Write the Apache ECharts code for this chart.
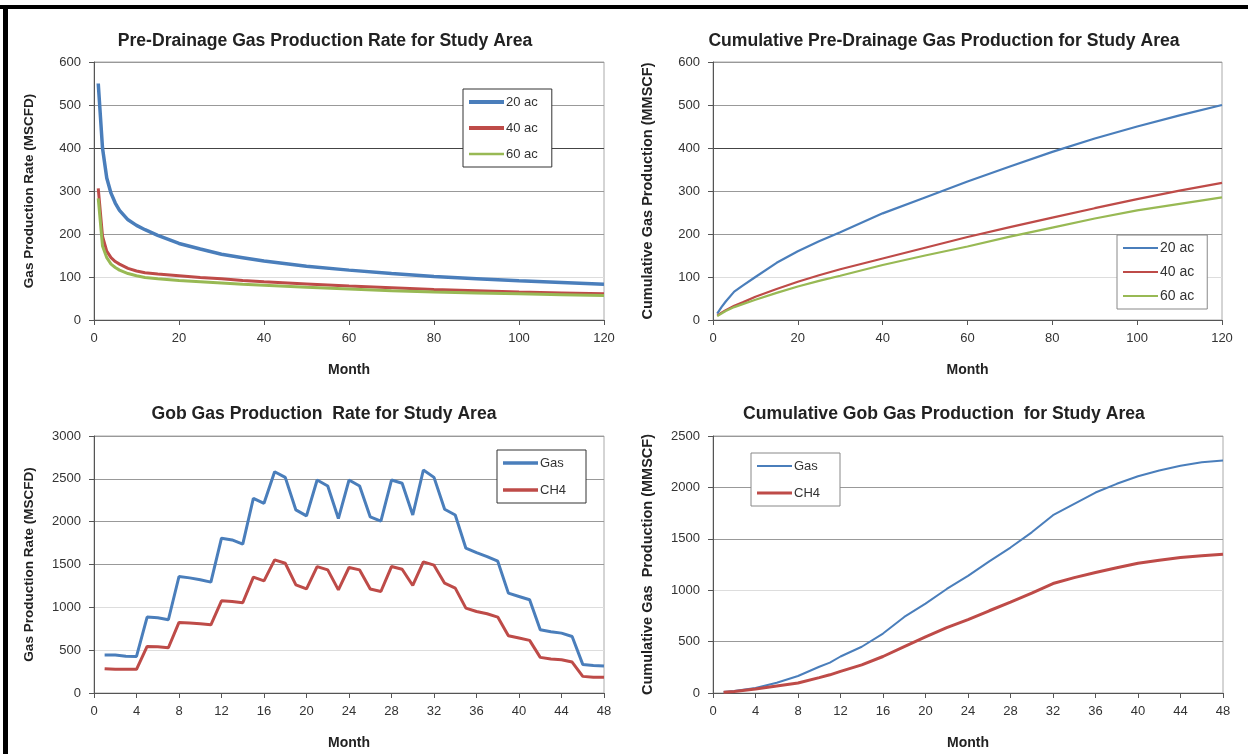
<!DOCTYPE html>
<html><head><meta charset="utf-8">
<script src="https://cdn.jsdelivr.net/npm/echarts@6/dist/echarts.min.js"></script>
<style>
html,body{margin:0;padding:0;background:#fff;}
#wrap{position:relative;width:1248px;height:754px;overflow:hidden;}
#c{position:absolute;left:0;top:0;width:1248px;height:754px;}
.fr{position:absolute;background:#000;pointer-events:none;}
</style></head>
<body><div id="wrap"><div id="c"></div>
<div class="fr" style="left:0;top:5px;width:1248px;height:4px"></div>
<div class="fr" style="left:3px;top:5px;width:5px;height:749px"></div>
</div>
<script>
// ---- Pre-drainage gas production rate (MSCFD) ----
const rateMonths = [1,2,3,4,5,6,8,10,12,15,20,25,30,35,40,50,60,70,80,90,100,110,120];
const rate20ac = [550,400,330,295,272,255,233,220,210,197,178,165,153,145,137,125,116,108,101,96,91,87,83];
const rate40ac = [306,195,160,145,136,130,120,114,110,107,103,99,96,92,89,84,79,75,71,68,65,63,61];
const rate60ac = [283,172,145,130,122,116,108,103,99,96,92,89,86,83,81,76,72,68,65,63,61,59,57];

// ---- Cumulative pre-drainage gas production (MMSCF) ----
const cumMonths = [1,2,3,5,7,10,15,20,25,30,40,50,60,70,80,90,100,110,120];
const cum20ac = [15,30,43,66,80,100,133,160,183,204,248,285,322,357,391,422,450,476,500];
const cum40ac = [10,17,23,33,41,54,72,89,104,118,143,168,193,216,238,260,281,301,319];
const cum60ac = [9,15,21,30,37,47,63,78,91,103,128,150,171,194,215,236,255,270,285];

// ---- Gob gas production rate (MSCFD), months 1..48 ----
const gobMonths = [1,2,3,4,5,6,7,8,9,10,11,12,13,14,15,16,17,18,19,20,21,22,23,24,25,26,27,28,29,30,31,32,33,34,35,36,37,38,39,40,41,42,43,44,45,46,47,48];
const gobGas = [443,443,430,427,886,878,855,1360,1344,1321,1294,1807,1787,1737,2273,2214,2583,2517,2137,2067,2486,2416,2036,2486,2416,2055,2006,2486,2448,2078,2603,2517,2145,2078,1690,1639,1593,1538,1166,1127,1088,738,715,699,660,334,322,315];
const gobCH4 = [284,276,276,276,544,540,528,824,816,808,796,1076,1068,1053,1352,1309,1554,1515,1263,1216,1476,1437,1204,1465,1437,1214,1185,1476,1445,1255,1531,1492,1282,1224,991,952,925,886,668,641,614,416,396,389,361,194,183,183];

// ---- Cumulative gob gas production (MMSCF) ----
const gobCumMonths = [1,2,4,6,8,10,11,12,14,16,18,20,22,24,26,28,30,32,34,36,38,40,42,44,46,48];
const gobCumGas = [10,20,48,100,165,255,295,355,450,578,740,870,1012,1140,1280,1415,1563,1730,1840,1950,2035,2108,2165,2210,2245,2262];
const gobCumCH4 = [8,15,38,68,97,150,177,210,274,355,452,545,635,714,800,885,972,1065,1122,1172,1218,1262,1292,1318,1335,1350];

// ---- tick settings ----
const preXTicks = {min:0,max:120,interval:20};
const preYTicks = {min:0,max:600,interval:100};
const gobXTicks = {min:0,max:48,interval:4};
const gobRateYTicks = {min:0,max:3000,interval:500};
const gobCumYTicks = {min:0,max:2500,interval:500};

const titles = [
  'Pre-Drainage Gas Production Rate for Study Area',
  'Cumulative Pre-Drainage Gas Production for Study Area',
  'Gob Gas Production  Rate for Study Area',
  'Cumulative Gob Gas Production  for Study Area'
];
const yNames = ['Gas Production Rate (MSCFD)','Cumulative Gas Production (MMSCF)','Gas Production Rate (MSCFD)','Cumulative Gas  Production (MMSCF)'];
const xName = 'Month';
const preNames = ['20 ac','40 ac','60 ac'];
const gobNames = ['Gas','CH4'];

const BLUE='#4A7EBB', RED='#BE4B48', GREEN='#98B954';
const FONT='Liberation Sans, Arial, sans-serif';
const pairs=(xs,ys)=>xs.map((x,i)=>[x,ys[i]]);
const bar=t=>'path://M0,0M35,14M0,'+(7-t/2)+'L35,'+(7-t/2)+'L35,'+(7+t/2)+'L0,'+(7+t/2)+'Z';

const grids=[
  {left:94,top:62,width:510,height:258},
  {left:713,top:62,width:509,height:258},
  {left:94,top:436,width:510,height:257},
  {left:713,top:436,width:510,height:257}
];
const titlePos=[[320,27],[939,27],[319,400],[939,400]];

function xAxis(i,t){
  return Object.assign({type:'value',gridIndex:i,name:xName,nameLocation:'middle',nameGap:43,
    nameTextStyle:{fontFamily:FONT,fontWeight:'bold',fontSize:14,color:'#222'},
    axisLine:{lineStyle:{color:'#555',width:1}},
    axisTick:{show:true,inside:false,length:5,lineStyle:{color:'#555'}},
    axisLabel:{fontFamily:FONT,fontSize:13,color:'#333',margin:12},
    splitLine:{show:false}},t);
}
function yAxis(i,t,name,gap,colors,fs){
  return Object.assign({type:'value',gridIndex:i,name:name,nameLocation:'middle',nameGap:gap,nameRotate:90,
    nameTextStyle:{fontFamily:FONT,fontWeight:'bold',fontSize:fs,color:'#222'},
    axisLine:{show:true,lineStyle:{color:'#555',width:1}},
    axisTick:{show:true,inside:false,length:5,lineStyle:{color:'#555'}},
    axisLabel:{fontFamily:FONT,fontSize:13,color:'#333',margin:13,formatter:v=>String(v)},
    splitLine:{show:true,lineStyle:{color:colors,width:1}}},t);
}
function line(name,xi,data,color,w){
  return {type:'line',name:name,xAxisIndex:xi,yAxisIndex:xi,data:data,symbol:'none',
    lineStyle:{color:color,width:w},itemStyle:{color:color},silent:true,animation:false};
}
function legend(names,widths,left,top,gap,border,fs,padR){
  return {data:names.map((n,k)=>({name:n,icon:bar(widths[k])})),orient:'vertical',left:left,top:top,itemWidth:35,itemHeight:14,itemGap:gap,
    padding:[6,padR,6,6],borderColor:border,borderWidth:1,backgroundColor:'#fff',
    textStyle:{fontFamily:FONT,fontSize:fs,color:'#333',padding:[0,0,0,-3]},selectedMode:false};
}

const preGrid=['#999','#ddd','#999','#999','#444','#999','#999'];
const chart=echarts.init(document.getElementById('c'),null,{renderer:'canvas'});
const s1=[line(preNames[0],0,pairs(rateMonths,rate20ac),BLUE,3.5),line(preNames[1],0,pairs(rateMonths,rate40ac),RED,3),line(preNames[2],0,pairs(rateMonths,rate60ac),GREEN,3)];
const s2=[line(preNames[0],1,pairs(cumMonths,cum20ac),BLUE,2.2),line(preNames[1],1,pairs(cumMonths,cum40ac),RED,2.2),line(preNames[2],1,pairs(cumMonths,cum60ac),GREEN,2.2)];
const s3=[line(gobNames[0],2,pairs(gobMonths,gobGas),BLUE,3),line(gobNames[1],2,pairs(gobMonths,gobCH4),RED,3)];
const s4=[line(gobNames[0],3,pairs(gobCumMonths,gobCumGas),BLUE,2),line(gobNames[1],3,pairs(gobCumMonths,gobCumCH4),RED,3)];
const option={
  animation:false,
  backgroundColor:'#fff',
  title:titles.map((t,i)=>({text:t,left:titlePos[i][0],top:titlePos[i][1],textAlign:'center',
    textStyle:{fontFamily:FONT,fontWeight:'bold',fontSize:17.6,color:'#222'}})),
  grid:grids.map(g=>Object.assign({show:true,borderColor:'#aaa',borderWidth:1,containLabel:false},g)),
  xAxis:[xAxis(0,preXTicks),xAxis(1,preXTicks),xAxis(2,gobXTicks),xAxis(3,gobXTicks)],
  yAxis:[yAxis(0,preYTicks,yNames[0],58,preGrid,13.5),yAxis(1,preYTicks,yNames[1],58,preGrid,14.5),
    yAxis(2,gobRateYTicks,yNames[2],58,['#999','#ddd','#ddd','#999','#999','#999','#999'],13.5),
    yAxis(3,gobCumYTicks,yNames[3],58,['#999','#999','#ddd','#999','#999','#999'],14.5)],
  legend:[
    legend(preNames,[4,4,2.5],463,89,12,'#333',13,14),
    legend(preNames,[2,2,2],1117,235,10,'#888',14,13),
    legend(gobNames,[3.5,3.5],497,450,13,'#333',13,20),
    legend(gobNames,[2,3],751,453,13,'#888',13,20)
  ],
  series:[...s1,...s2,...s3,...s4]
};
chart.setOption(option);
</script></body></html>
